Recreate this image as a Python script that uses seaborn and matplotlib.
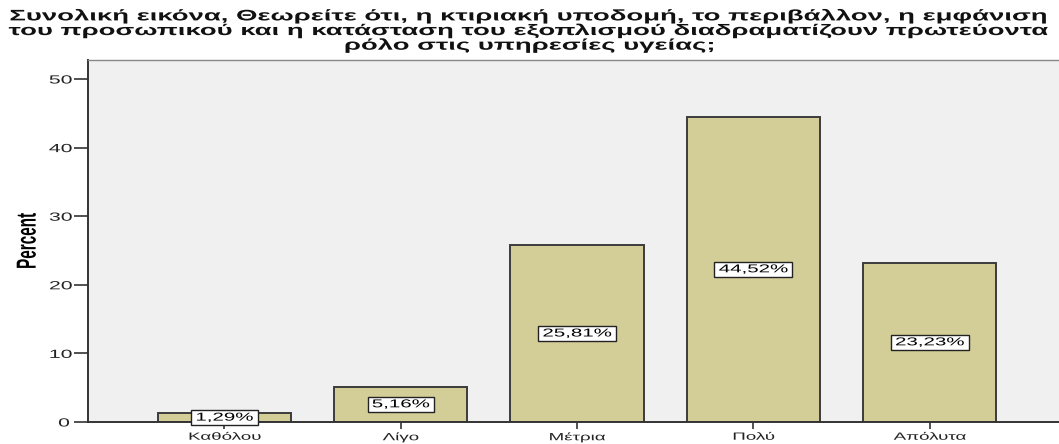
import matplotlib
matplotlib.use("Agg")
import matplotlib.pyplot as plt
import seaborn as sns
import pandas as pd
from matplotlib.patheffects import AbstractPathEffect
from matplotlib.transforms import Affine2D

categories = ["Καθόλου", "Λίγο", "Μέτρια", "Πολύ", "Απόλυτα"]
percents = [1.29, 5.16, 25.81, 44.52, 23.23]
yticks = [0, 10, 20, 30, 40, 50]

title = ("Συνολική εικόνα, Θεωρείτε ότι, η κτιριακή υποδομή, το περιβάλλον, η εμφάνιση\n"
         "του προσωπικού και η κατάσταση του εξοπλισμού διαδραματίζουν πρωτεύοντα\n"
         "ρόλο στις υπηρεσίες υγείας;")

# all text on this chart is set in a horizontally widened face
WIDEN = 1.8


class WidenX(AbstractPathEffect):
    """Scale a drawn path horizontally about its own centre."""

    def __init__(self, sx):
        super().__init__()
        self.sx = sx

    def draw_path(self, renderer, gc, tpath, affine, rgbFace=None):
        verts = affine.transform(tpath.vertices)
        if len(verts):
            cx = 0.5 * (verts[:, 0].min() + verts[:, 0].max())
        else:
            cx = 0.0
        widened = affine + Affine2D().translate(-cx, 0).scale(self.sx, 1).translate(cx, 0)
        renderer.draw_path(gc, tpath, widened, rgbFace)


wide = [WidenX(WIDEN)]

df = pd.DataFrame({"category": categories, "percent": percents})

sns.set_theme(style="white")
plt.rcParams["font.family"] = ["Liberation Sans", "DejaVu Sans"]

fig = plt.figure(figsize=(10.59, 4.44), dpi=100)
ax = fig.add_axes([88 / 1059, 22 / 444, 978 / 1059, 362 / 444])
ax.set_facecolor("#f0f0f0")

sns.barplot(data=df, x="category", y="percent", order=categories,
            color="#d3ce97", saturation=1, width=0.755,
            edgecolor="#3c3c3c", linewidth=1.4, ax=ax)

for i, v in enumerate(percents):
    t = ax.text(i, v / 2, f"{v:.2f}%".replace(".", ","), ha="center", va="center",
                fontsize=8.2, color="black",
                bbox=dict(boxstyle="square,pad=0.2", facecolor="white",
                          edgecolor="#222222", linewidth=1.0))
    t.set_path_effects(wide)
    t.get_bbox_patch().set_path_effects(wide)

ax.set_xlim(-0.773, 4.773)
ax.set_ylim(0, 52.77)
ax.set_yticks(yticks)
ax.set_yticklabels([str(t) for t in yticks], fontsize=8.5, color="#222222")
ax.set_xticks(range(len(categories)))
ax.set_xticklabels(categories, fontsize=7.5, color="#222222")
ax.tick_params(axis="y", direction="out", length=10, width=1.2, color="#333333", pad=5, left=True)
ax.tick_params(axis="x", direction="out", length=5, width=1.2, color="#333333", pad=2, bottom=True)
for t in ax.get_xticklabels() + ax.get_yticklabels():
    t.set_path_effects(wide)

ax.set_xlabel("")
ax.set_ylabel("Percent", fontsize=11, fontweight="bold", color="black", labelpad=14)
ax.yaxis.label.set_path_effects(wide)

for side in ["left", "bottom"]:
    ax.spines[side].set_color("#333333")
    ax.spines[side].set_linewidth(1.4)
ax.spines["top"].set_color("#888888")
ax.spines["top"].set_linewidth(1.0)
ax.spines["right"].set_visible(False)

ttl = fig.text(0.5, 1 - 31 / 444, title, ha="center", va="center", fontsize=11,
               fontweight="bold", color="#111111", linespacing=1.05)
ttl.set_path_effects(wide)

fig.savefig("out.png", dpi=100)
